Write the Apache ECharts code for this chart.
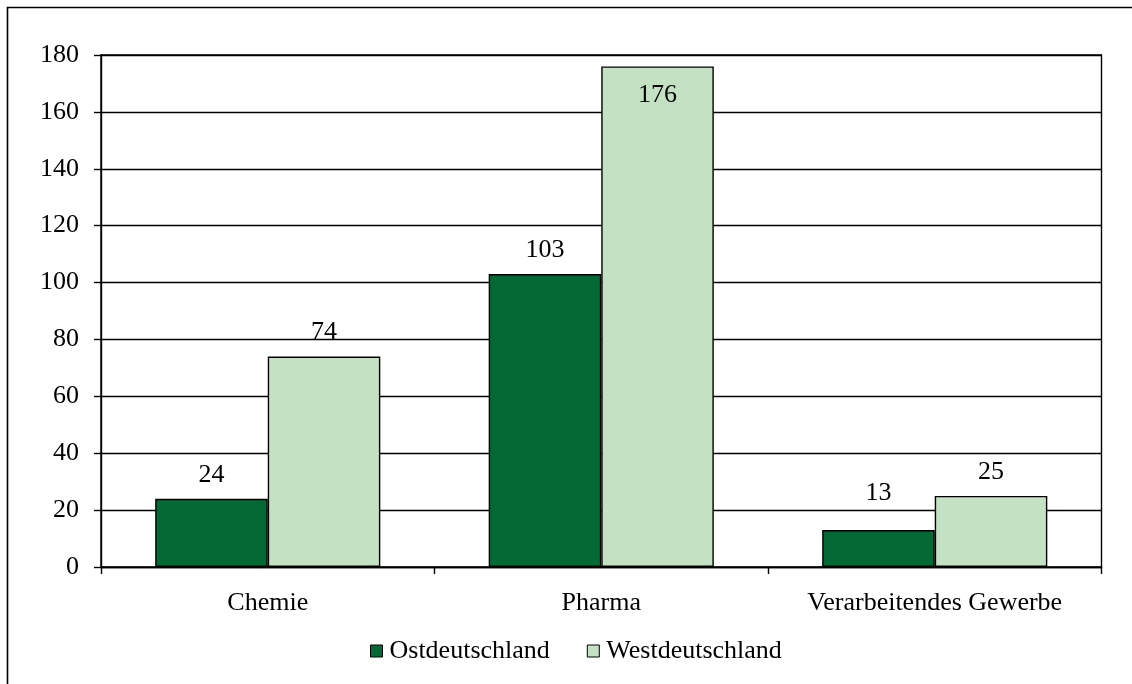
<!DOCTYPE html>
<html><head><meta charset="utf-8">
<script src="https://cdn.jsdelivr.net/npm/echarts@6/dist/echarts.min.js"></script>
<style>html,body{margin:0;padding:0;background:#fff}#c{width:1132px;height:684px}</style>
</head><body><div id="c"></div>
<script>
const categories = ['Chemie', 'Pharma', 'Verarbeitendes Gewerbe'];
const seriesNames = ['Ostdeutschland', 'Westdeutschland'];
const ostValues = [24, 103, 13];
const westValues = [74, 176, 25];
const yTicks = [0, 20, 40, 60, 80, 100, 120, 140, 160, 180];

const FONT = '"Liberation Serif", "Times New Roman", serif';
const FS = 26;
const chart = echarts.init(document.getElementById('c'), null, {renderer: 'canvas'});

function labelFor(v, s) {
  if (s === 1 && v === 176) return {position: 'insideTop', distance: 16};
  if (s === 0 && v === 13) return {position: 'top', distance: 24};
  return {position: 'top', distance: 11};
}

chart.setOption({
  backgroundColor: '#fff',
  animation: false,
  textStyle: {fontFamily: FONT},
  graphic: [{
    type: 'rect', silent: true,
    shape: {x: 7.5, y: 7.5, width: 2000, height: 2000},
    style: {fill: 'none', stroke: '#000', lineWidth: 1.6}
  }],
  grid: {left: 101, right: 30.5, top: 55, bottom: 117, show: true, borderColor: '#000', borderWidth: 1.4},
  legend: {
    data: seriesNames,
    left: 370, top: 638, padding: 0,
    itemWidth: 12, itemHeight: 12, itemGap: 37,
    icon: 'rect',
    textStyle: {fontFamily: FONT, fontSize: FS, color: '#000', padding: [0, 0, 0, 2]},
    itemStyle: {borderColor: '#000', borderWidth: 1}
  },
  xAxis: {
    type: 'category', data: categories,
    axisLine: {lineStyle: {color: '#000', width: 1.4}},
    axisTick: {show: true, length: 7, lineStyle: {color: '#000', width: 1.4}},
    axisLabel: {fontFamily: FONT, fontSize: FS, color: '#000', margin: 23}
  },
  yAxis: {
    type: 'value', min: yTicks[0], max: yTicks[yTicks.length - 1], interval: yTicks[1] - yTicks[0],
    axisLine: {show: true, lineStyle: {color: '#000', width: 1.4}},
    axisTick: {show: true, length: 7, lineStyle: {color: '#000', width: 1.4}},
    axisLabel: {fontFamily: FONT, fontSize: FS, color: '#000', margin: 22},
    splitLine: {show: true, lineStyle: {color: '#000', width: 1.4}}
  },
  series: [
    {name: seriesNames[0], type: 'bar', barGap: '0%', barCategoryGap: '32.5%',
     itemStyle: {color: '#036A36', borderColor: '#000', borderWidth: 1.4},
     data: ostValues.map(v => ({value: v, label: Object.assign({show: true, fontFamily: FONT, fontSize: FS, color: '#000'}, labelFor(v, 0))}))},
    {name: seriesNames[1], type: 'bar', barGap: '0%', barCategoryGap: '32.5%',
     itemStyle: {color: '#C4E2C3', borderColor: '#000', borderWidth: 1.4},
     data: westValues.map(v => ({value: v, label: Object.assign({show: true, fontFamily: FONT, fontSize: FS, color: '#000'}, labelFor(v, 1))}))}
  ]
});
</script></body></html>
